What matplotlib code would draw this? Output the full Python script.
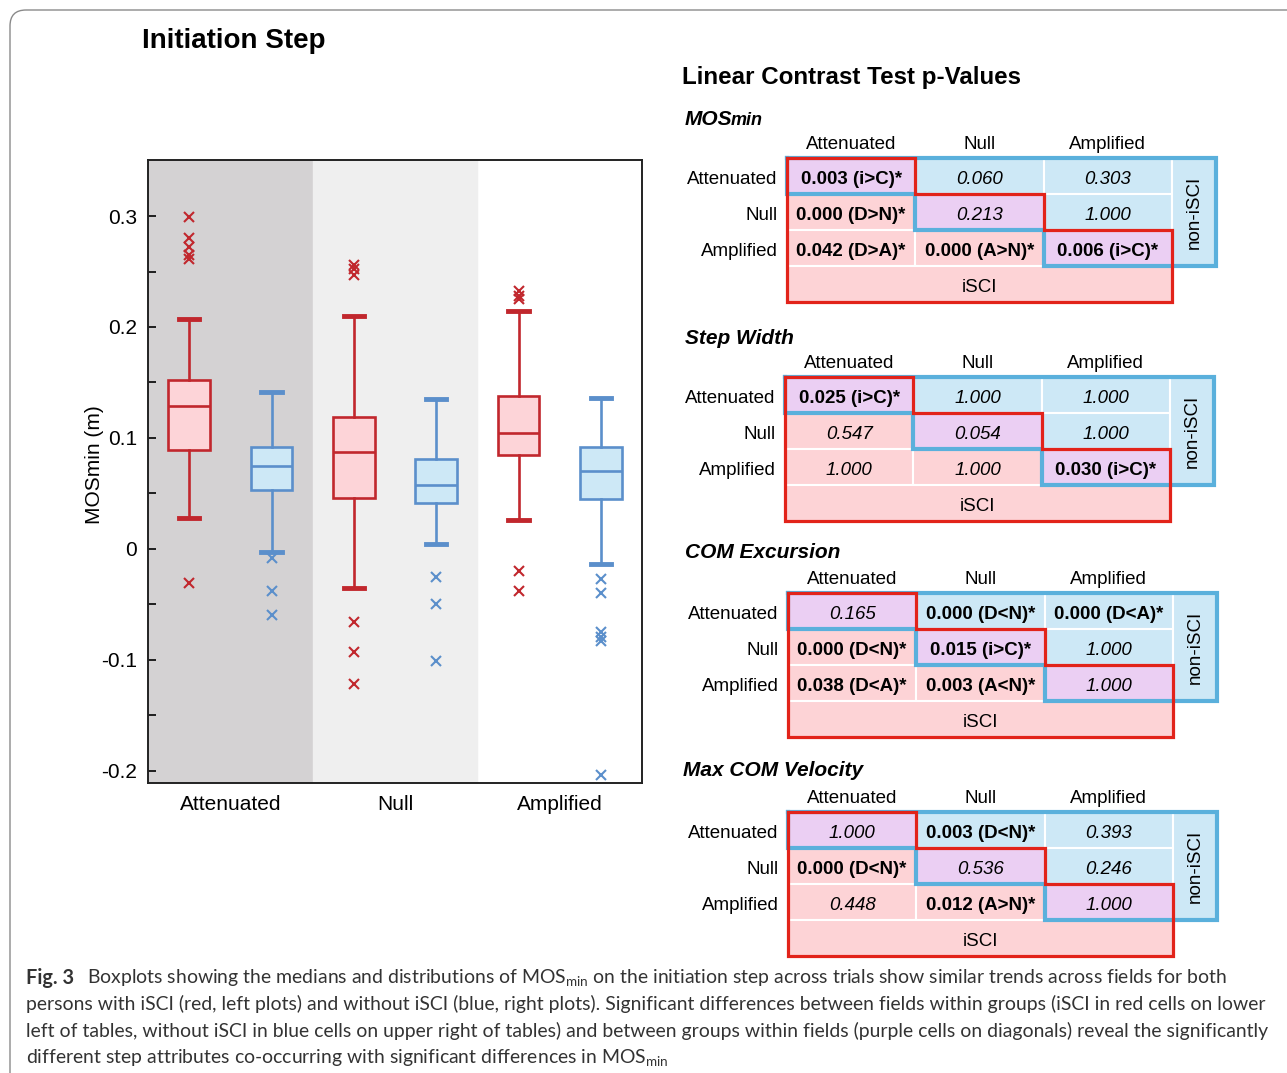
import matplotlib
matplotlib.use('Agg')
import matplotlib.pyplot as plt
from matplotlib.patches import Rectangle, FancyBboxPatch
from matplotlib.ticker import MultipleLocator, FixedLocator, FuncFormatter

W, H = 1287, 1073

plt.rcParams['font.family'] = ['Liberation Sans', 'DejaVu Sans']
plt.rcParams['axes.unicode_minus'] = False
plt.rcParams['mathtext.fontset'] = 'custom'
plt.rcParams['mathtext.rm'] = 'Lato'

# ---- boxplot data: MOSmin (m), order = iSCI/non-iSCI per field ----
fields = ['Attenuated', 'Null', 'Amplified']
q1 = [0.089, 0.053, 0.046, 0.041, 0.085, 0.045]
med = [0.129, 0.075, 0.087, 0.058, 0.104, 0.070]
q3 = [0.152, 0.092, 0.119, 0.081, 0.138, 0.092]
whis_lo = [0.028, -0.003, -0.035, 0.004, 0.026, -0.014]
whis_hi = [0.207, 0.141, 0.210, 0.135, 0.214, 0.136]
fliers = [
    [0.299, 0.280, 0.272, 0.265, 0.261, -0.031],
    [-0.008, -0.038, -0.060],
    [0.256, 0.252, 0.247, -0.066, -0.093, -0.122],
    [-0.025, -0.050, -0.101],
    [0.232, 0.228, 0.225, -0.020, -0.038],
    [-0.027, -0.040, -0.075, -0.079, -0.083, -0.204],
]

# ---- p-value tables ----
row_names = ['Attenuated', 'Null', 'Amplified']
table_titles = ['MOSmin', 'Step Width', 'COM Excursion', 'Max COM Velocity']
mos_vals = [['0.003 (i>C)*', '0.060', '0.303'],
            ['0.000 (D>N)*', '0.213', '1.000'],
            ['0.042 (D>A)*', '0.000 (A>N)*', '0.006 (i>C)*']]
step_vals = [['0.025 (i>C)*', '1.000', '1.000'],
             ['0.547', '0.054', '1.000'],
             ['1.000', '1.000', '0.030 (i>C)*']]
com_vals = [['0.165', '0.000 (D<N)*', '0.000 (D<A)*'],
            ['0.000 (D<N)*', '0.015 (i>C)*', '1.000'],
            ['0.038 (D<A)*', '0.003 (A<N)*', '1.000']]
vel_vals = [['1.000', '0.003 (D<N)*', '0.393'],
            ['0.000 (D<N)*', '0.536', '0.246'],
            ['0.448', '0.012 (A>N)*', '1.000']]
all_tables = [mos_vals, step_vals, com_vals, vel_vals]

caption = [
    ('Boxplots showing the medians and distributions of MOS$_{\\mathrm{min}}$ on the initiation step '
     'across trials show similar trends across fields for both'),
    ('persons with iSCI (red, left plots) and without iSCI (blue, right plots). Significant differences '
     'between fields within groups (iSCI in red cells on lower'),
    ('left of tables, without iSCI in blue cells on upper right of tables) and between groups within '
     'fields (purple cells on diagonals) reveal the significantly'),
    'different step attributes co-occurring with significant differences in MOS$_{\\mathrm{min}}$',
]

RED, RED_FC = '#c1272d', '#fdd4d8'
BLUE, BLUE_FC = '#5b8fcb', '#cde8f6'
C_DIAG, C_UP, C_LO = '#ebcff3', '#cde8f6', '#fdd3d6'
OUT_RED, OUT_BLUE = '#e2231a', '#5ab0dc'


def rect_px(left, top, width, height):
    return [left / W, 1 - (top + height) / H, width / W, height / H]


fig = plt.figure(figsize=(W / 100, H / 100), dpi=100)

# overlay axes in pixel units for frame and free text
ov = fig.add_axes([0, 0, 1, 1])
ov.set_xlim(0, W)
ov.set_ylim(H, 0)
ov.axis('off')
ov.add_patch(FancyBboxPatch((10, 10), 1400, 1200, boxstyle='round,pad=0,rounding_size=16',
                            fc='none', ec='#8a8a8a', lw=1.0))
ov.text(142, 38, 'Initiation Step', fontsize=20, fontweight='bold', va='center_baseline')
ov.text(682, 75, 'Linear Contrast Test p-Values', fontsize=17.4, fontweight='bold',
        va='center_baseline')
ov.text(95, 465, 'MOSmin (m)', fontsize=15, rotation=90, ha='center', va='center')

# ---- boxplot ----
ax = fig.add_axes(rect_px(148, 160, 494, 623))
ax.axvspan(0.5, 2.5, color='#d4d2d3', zorder=0)
ax.axvspan(2.5, 4.5, color='#efefef', zorder=0)
stats = []
for i in range(6):
    stats.append(dict(med=med[i], q1=q1[i], q3=q3[i], whislo=whis_lo[i],
                      whishi=whis_hi[i], fliers=fliers[i]))
for i, st in enumerate(stats):
    ec, fc = (RED, RED_FC) if i % 2 == 0 else (BLUE, BLUE_FC)
    ax.bxp([st], positions=[i + 1], widths=0.51, capwidths=0.25, patch_artist=True,
           boxprops=dict(facecolor=fc, edgecolor=ec, lw=1.9),
           medianprops=dict(color=ec, lw=1.9),
           whiskerprops=dict(color=ec, lw=1.9),
           capprops=dict(color=ec, lw=3.5),
           flierprops=dict(marker='x', markeredgecolor=ec, markersize=6.5, markeredgewidth=1.5))
ax.set_xlim(0.5, 6.5)
ax.set_ylim(-0.211, 0.3505)
ax.set_xticks([1.5, 3.5, 5.5])
ax.set_xticklabels(fields, fontsize=15)
ax.tick_params(axis='x', length=0, pad=9)
ax.yaxis.set_major_locator(MultipleLocator(0.1))
ax.yaxis.set_minor_locator(FixedLocator([-0.15, -0.05, 0.05, 0.15, 0.25]))
ax.yaxis.set_major_formatter(FuncFormatter(lambda v, p: '0' if abs(v) < 1e-9 else f'{v:.1f}'))
ax.tick_params(axis='y', which='both', direction='in', length=6, width=1.2, labelsize=15, pad=8)
for s in ax.spines.values():
    s.set_linewidth(1.4)
    s.set_color('#222222')

# ---- contrast tables ----
table_pos = [(787, 158), (785, 377), (788, 593), (788, 812)]
title_pos = [(685, 120), (685, 336), (685, 550), (683, 768)]
CW, RH, SIDE = 128.3, 36.0, 0.343
FS = 13.5
for k, vals in enumerate(all_tables):
    left, top = table_pos[k]
    tx = fig.add_axes(rect_px(left, top, (3 + SIDE) * CW, 4 * RH))
    tx.set_xlim(0, 3 + SIDE)
    tx.set_ylim(4, 0)
    tx.axis('off')
    for r in range(3):
        for c in range(3):
            fc = C_DIAG if r == c else (C_UP if c > r else C_LO)
            tx.add_patch(Rectangle((c, r), 1, 1, fc=fc, ec='white', lw=1.5))
            txt = vals[r][c]
            sig = '*' in txt
            tx.text(c + 0.5, r + 0.55, txt, ha='center', va='center_baseline', fontsize=FS,
                    fontweight='bold' if sig else 'normal',
                    fontstyle='normal' if sig else 'italic')
        tx.text(-0.075, r + 0.55, row_names[r], ha='right', va='center_baseline', fontsize=FS,
                clip_on=False)
        tx.text(r + 0.5, -0.42, row_names[r], ha='center', va='center_baseline', fontsize=FS,
                clip_on=False)
    tx.add_patch(Rectangle((3, 0), SIDE, 3, fc=C_UP, ec='white', lw=1.5))
    tx.add_patch(Rectangle((0, 3), 3, 1, fc=C_LO, ec='white', lw=1.5))
    tx.text(3 + SIDE / 2, 1.5, 'non-iSCI', rotation=90, ha='center', va='center', fontsize=FS)
    tx.text(1.5, 3.55, 'iSCI', ha='center', va='center_baseline', fontsize=FS)
    # upper triangle (non-iSCI) outline, lower triangle (iSCI) outline
    bx = [0, 3 + SIDE, 3 + SIDE, 2, 2, 1, 1, 0, 0]
    by = [0, 0, 3, 3, 2, 2, 1, 1, 0]
    tx.plot(bx, by, color=OUT_BLUE, lw=3.0, clip_on=False, solid_joinstyle='miter')
    rx = [0, 1, 1, 2, 2, 3, 3, 0, 0]
    ry = [0, 0, 1, 1, 2, 2, 4, 4, 0]
    tx.plot(rx, ry, color=OUT_RED, lw=2.3, clip_on=False, solid_joinstyle='miter')
    tpx, tpy = title_pos[k]
    if k == 0:
        ov.text(tpx, tpy + 5, 'MOS', fontsize=15, fontweight='bold',
                fontstyle='italic', va='baseline')
        ov.text(tpx + 46, tpy + 5, 'min', fontsize=13, fontweight='bold',
                fontstyle='italic', va='baseline')
    else:
        ov.text(tpx, tpy, table_titles[k], fontsize=15, fontweight='bold',
                fontstyle='italic', va='center_baseline')

# ---- caption ----
cap_y = [976, 1002, 1029, 1056]
CFS = 13.95
ov.text(26, cap_y[0], 'Fig. 3', fontsize=CFS + 0.4, fontweight='bold', family='Lato',
        color='#333333', va='center_baseline')
ov.text(87, cap_y[0], caption[0], fontsize=CFS, family='Lato', color='#333333',
        va='center_baseline')
for line, y in zip(caption[1:], cap_y[1:]):
    ov.text(26, y, line, fontsize=CFS, family='Lato', color='#333333', va='center_baseline')

fig.savefig('out.png', dpi=100)
